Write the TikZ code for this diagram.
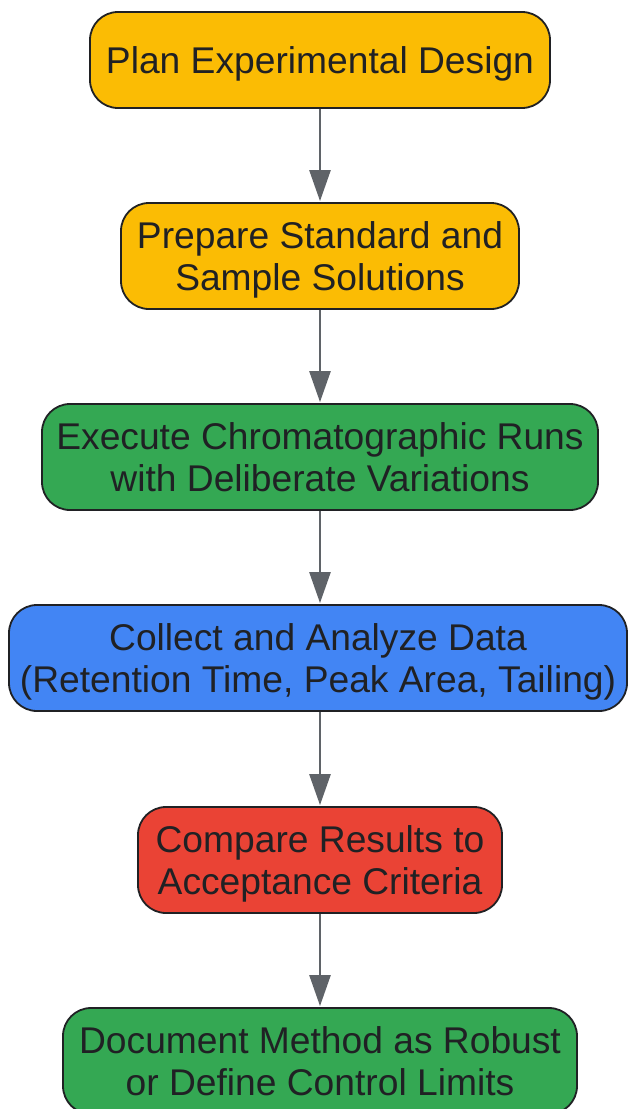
\documentclass[tikz,border=0pt]{standalone}
\usepackage{fontspec}
\setmainfont{Liberation Sans}
\usetikzlibrary{arrows.meta}
\definecolor{stepyellow}{HTML}{FBBC04}
\definecolor{stepgreen}{HTML}{34A853}
\definecolor{stepblue}{HTML}{4285F4}
\definecolor{stepred}{HTML}{EA4335}
\definecolor{edgecol}{HTML}{202124}
\definecolor{arrowcol}{HTML}{5F6368}
\tikzset{
  stepbox/.style={draw=edgecol, line width=1.8pt, rounded corners=28pt, align=center,
    text=edgecol, font=\fontsize{37.2}{42}\selectfont, inner sep=0pt, text depth=0pt},
  flow/.style={draw=arrowcol, line width=2.6pt, -{Triangle[length=31pt, width=21pt]}, shorten >=1pt}
}
\begin{document}
\begin{tikzpicture}[x=1pt, y=-1pt]
\useasboundingbox (0,0) rectangle (628,1109);
\node[stepbox, fill=stepyellow, minimum width=460pt, minimum height=96pt] (plan) at (320,60) {Plan Experimental Design};
\node[stepbox, fill=stepyellow, minimum width=398pt, minimum height=106pt] (prep) at (320,256) {Prepare Standard and\\Sample Solutions};
\node[stepbox, fill=stepgreen, minimum width=556pt, minimum height=106pt] (runs) at (320,457) {Execute Chromatographic Runs\\with Deliberate Variations};
\node[stepbox, fill=stepblue, minimum width=618pt, minimum height=106pt] (data) at (318,658) {Collect and Analyze Data\\(Retention Time, Peak Area, Tailing)};
\node[stepbox, fill=stepred, minimum width=364pt, minimum height=106pt] (comp) at (320,860) {Compare Results to\\Acceptance Criteria};
\node[stepbox, fill=stepgreen, minimum width=514pt, minimum height=106pt] (doc) at (320,1061) {Document Method as Robust\\or Define Control Limits};
\draw[flow] (plan) -- (prep);
\draw[flow] (prep) -- (runs);
\draw[flow] (runs) -- (runs.south |- data.north);
\draw[flow] (data.south -| comp.north) -- (comp);
\draw[flow] (comp) -- (doc);
\end{tikzpicture}
\end{document}
